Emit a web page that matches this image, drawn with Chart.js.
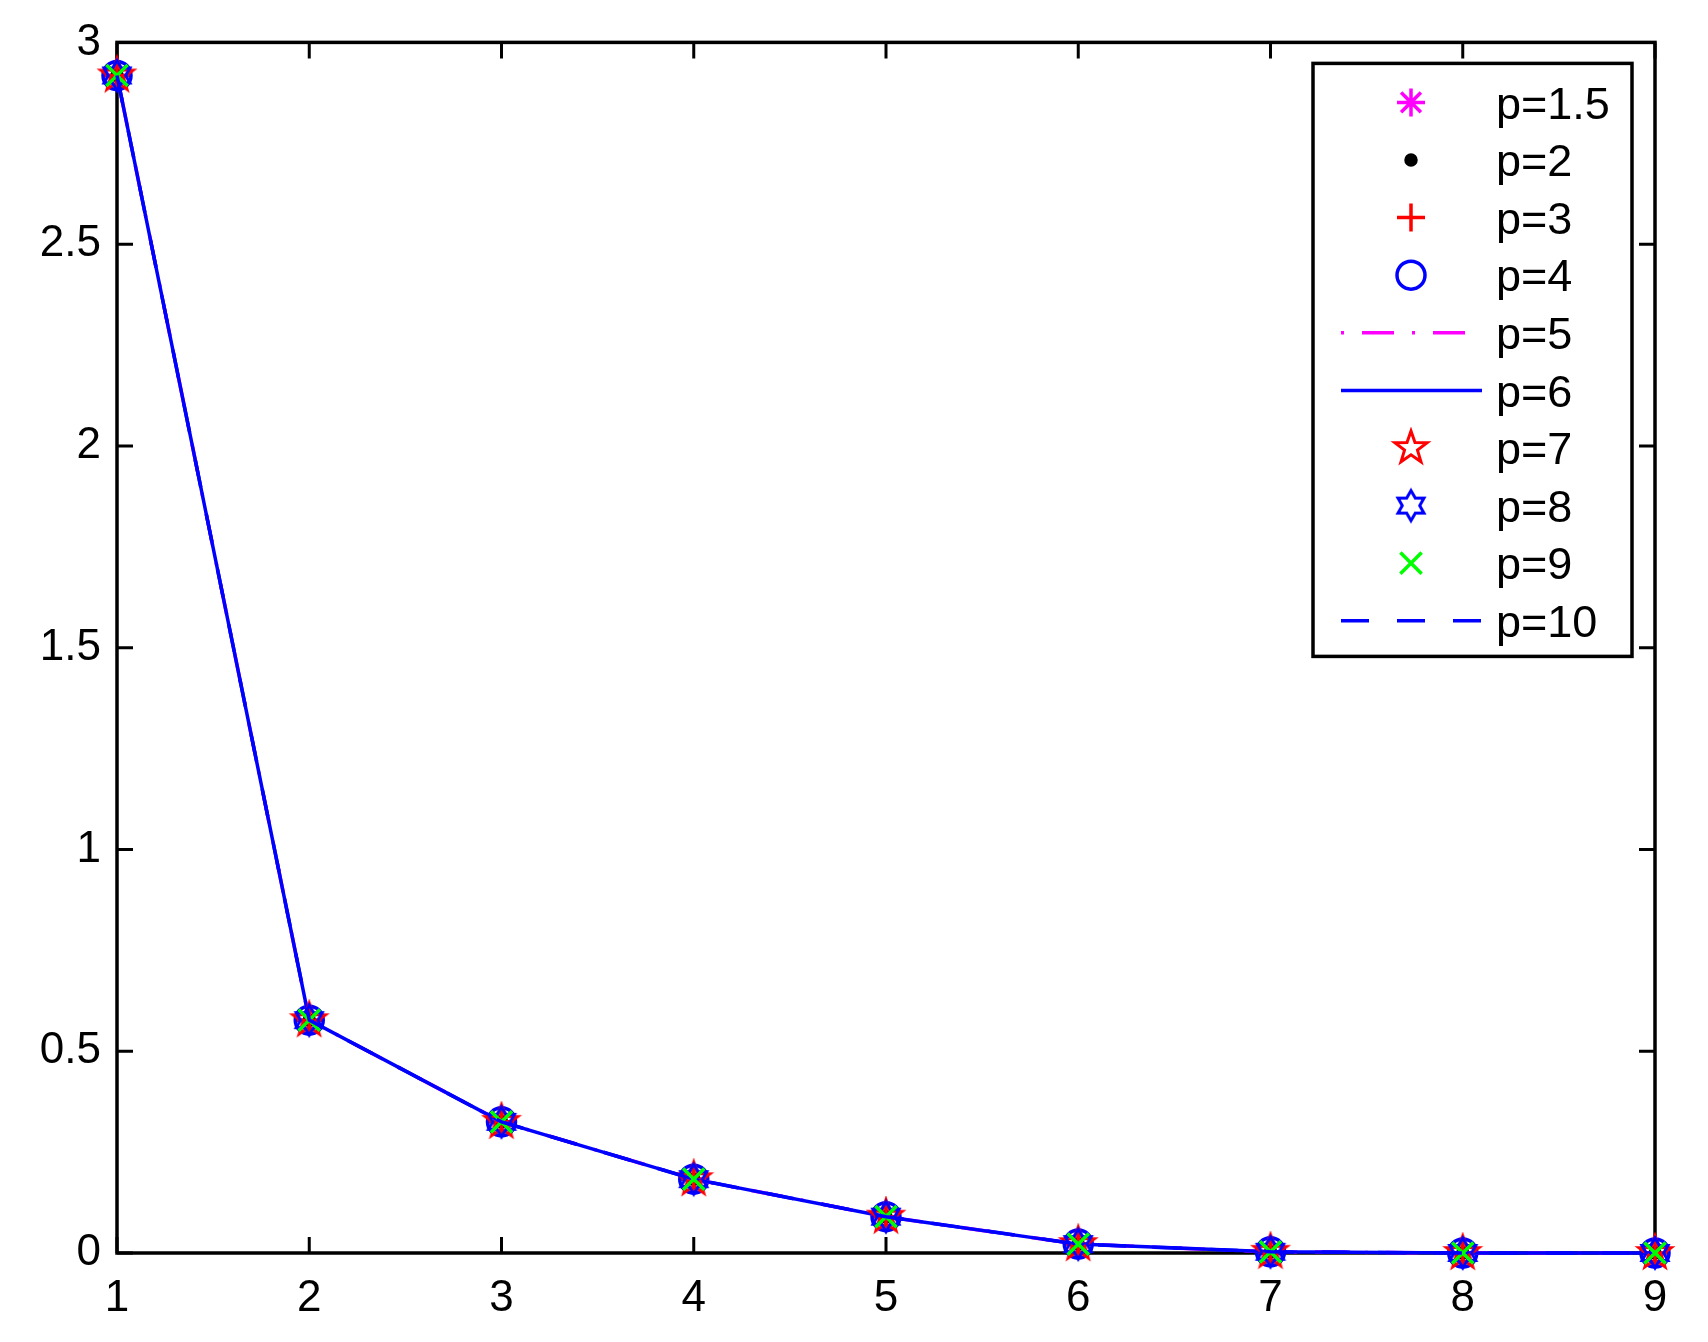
<!DOCTYPE html>
<html lang="en">
<head>
  <meta charset="UTF-8" />
  <title>p curves</title>
  <script src="https://cdn.jsdelivr.net/npm/chart.js"></script>
  <style>
    html, body { margin: 0; padding: 0; background: #fff; }
    #wrap { width: 1708px; height: 1342px; }
  </style>
</head>
<body>
  <div id="wrap"><canvas id="chart"></canvas></div>

  <script>
    // values, one array per curve
    const xValues = [1, 2, 3, 4, 5, 6, 7, 8, 9];
    const xTicks = [1, 2, 3, 4, 5, 6, 7, 8, 9];
    const yTicks = [0, 0.5, 1, 1.5, 2, 2.5, 3];
    const seriesNames = ['p=1.5', 'p=2', 'p=3', 'p=4', 'p=5', 'p=6', 'p=7', 'p=8', 'p=9', 'p=10'];

    const p1_5 = [2.918, 0.577, 0.325, 0.183, 0.090, 0.022, 0.003, 0.000, 0.000];
    const p2   = [2.918, 0.577, 0.325, 0.183, 0.090, 0.022, 0.003, 0.000, 0.000];
    const p3   = [2.918, 0.577, 0.325, 0.183, 0.090, 0.022, 0.003, 0.000, 0.000];
    const p4   = [2.918, 0.577, 0.325, 0.183, 0.090, 0.022, 0.003, 0.000, 0.000];
    const p5   = [2.918, 0.577, 0.325, 0.183, 0.090, 0.022, 0.003, 0.000, 0.000];
    const p6   = [2.918, 0.577, 0.325, 0.183, 0.090, 0.022, 0.003, 0.000, 0.000];
    const p7   = [2.918, 0.577, 0.325, 0.183, 0.090, 0.022, 0.003, 0.000, 0.000];
    const p8   = [2.918, 0.577, 0.325, 0.183, 0.090, 0.022, 0.003, 0.000, 0.000];
    const p9   = [2.918, 0.577, 0.325, 0.183, 0.090, 0.022, 0.003, 0.000, 0.000];
    const p10  = [2.918, 0.577, 0.325, 0.183, 0.090, 0.022, 0.003, 0.000, 0.000];

    const FONT = "'Liberation Sans', Arial, Helvetica, sans-serif";

    // star shaped markers (pentagram / hexagram) as small canvases
    function starMarker(n, rOut, rIn, color) {
      const size = Math.ceil(rOut * 2 + 8);
      const c = document.createElement('canvas');
      c.width = size; c.height = size;
      const g = c.getContext('2d');
      g.strokeStyle = color;
      g.lineWidth = 3;
      g.lineJoin = 'miter';
      g.beginPath();
      for (let k = 0; k < n * 2; k++) {
        const r = k % 2 ? rIn : rOut;
        const a = -Math.PI / 2 + k * Math.PI / n;
        const px = size / 2 + r * Math.cos(a);
        const py = size / 2 + r * Math.sin(a);
        if (k === 0) g.moveTo(px, py); else g.lineTo(px, py);
      }
      g.closePath();
      g.stroke();
      return c;
    }
    const pentagram = starMarker(5, 17, 6.8, '#ff0000');
    const hexagram = starMarker(6, 15, 8.7, '#0000ff');

    function pts(arr) {
      return xValues.map((x, i) => ({ x: x, y: arr[i] }));
    }

    function markers(label, arr, style, color, radius, fill) {
      return {
        label: label, data: pts(arr), showLine: false,
        pointStyle: style, pointRadius: radius, pointHoverRadius: radius,
        borderColor: color, pointBorderColor: color,
        pointBackgroundColor: fill || 'rgba(0,0,0,0)',
        pointBorderWidth: 3.5, borderWidth: 3.5, clip: false
      };
    }
    function curve(label, arr, color, dash) {
      return {
        label: label, data: pts(arr), showLine: true,
        borderColor: color, borderWidth: 3.5, borderDash: dash,
        pointRadius: 0, pointHoverRadius: 0, tension: 0, clip: false,
        pointStyle: false
      };
    }

    const datasets = [
      markers(seriesNames[0], p1_5, 'star', '#ff00ff', 14),
      markers(seriesNames[1], p2, 'circle', '#000000', 5, '#000000'),
      markers(seriesNames[2], p3, 'cross', '#ff0000', 14),
      markers(seriesNames[3], p4, 'circle', '#0000ff', 14),
      curve(seriesNames[4], p5, '#ff00ff', [3, 18, 32, 18]),
      curve(seriesNames[5], p6, '#0000ff', []),
      markers(seriesNames[6], p7, pentagram, '#ff0000', 16),
      markers(seriesNames[7], p8, hexagram, '#0000ff', 15),
      markers(seriesNames[8], p9, 'crossRot', '#00ff00', 15),
      curve(seriesNames[9], p10, '#0000ff', [28, 28])
    ];
    // later curves on top, like the original plot
    datasets.forEach((d, i) => { d.order = datasets.length - i; });

    const TICK_LEN = 16;

    const boxPlugin = {
      id: 'boxPlugin',
      beforeDatasetsDraw(chart) {
        const { ctx, chartArea: a, scales: { x, y } } = chart;
        ctx.save();
        ctx.strokeStyle = '#000';
        ctx.lineWidth = 3.5;
        ctx.strokeRect(a.left, a.top, a.right - a.left, a.bottom - a.top);
        ctx.lineWidth = 3;
        ctx.beginPath();
        x.ticks.forEach(t => {
          const px = x.getPixelForValue(t.value);
          ctx.moveTo(px, a.bottom); ctx.lineTo(px, a.bottom - TICK_LEN);
          ctx.moveTo(px, a.top); ctx.lineTo(px, a.top + TICK_LEN);
        });
        y.ticks.forEach(t => {
          const py = y.getPixelForValue(t.value);
          ctx.moveTo(a.left, py); ctx.lineTo(a.left + TICK_LEN, py);
          ctx.moveTo(a.right, py); ctx.lineTo(a.right - TICK_LEN, py);
        });
        ctx.stroke();
        ctx.restore();
      },
      afterDraw(chart) {
        const { ctx, chartArea: a } = chart;
        const bx = a.right - 23, by = a.top + 21;
        const bw = 319, bh = 593;
        const left = bx - bw;
        ctx.save();
        ctx.fillStyle = '#fff';
        ctx.fillRect(left, by, bw, bh);
        ctx.strokeStyle = '#000';
        ctx.lineWidth = 3.5;
        ctx.strokeRect(left, by, bw, bh);

        const rowH = 57.6;
        const fontSize = 45;
        chart.data.datasets.forEach((d, i) => {
          const cy = by + 39 + i * rowH;
          const cx = left + 98;
          if (d.showLine) {
            ctx.save();
            ctx.strokeStyle = d.borderColor;
            ctx.lineWidth = d.borderWidth;
            ctx.setLineDash(d.borderDash || []);
            ctx.beginPath();
            ctx.moveTo(left + 28, cy);
            ctx.lineTo(left + 169, cy);
            ctx.stroke();
            ctx.restore();
          } else {
            ctx.save();
            ctx.strokeStyle = d.pointBorderColor;
            ctx.fillStyle = d.pointBackgroundColor;
            ctx.lineWidth = d.pointBorderWidth;
            Chart.helpers.drawPoint(ctx, {
              pointStyle: d.pointStyle, radius: d.pointRadius,
              borderWidth: d.pointBorderWidth, rotation: 0
            }, cx, cy);
            ctx.restore();
          }
          ctx.fillStyle = '#000';
          ctx.font = fontSize + 'px ' + FONT;
          ctx.textAlign = 'left';
          ctx.textBaseline = 'alphabetic';
          ctx.fillText(d.label, left + 183, cy + fontSize * 0.716 / 2);
        });
        ctx.restore();
      }
    };

    new Chart(document.getElementById('chart'), {
      type: 'line',
      data: { datasets: datasets },
      options: {
        responsive: true,
        maintainAspectRatio: false,
        animation: false,
        events: [],
        layout: { padding: { top: 41, right: 53, left: 0, bottom: 0 } },
        plugins: { legend: { display: false }, tooltip: { enabled: false } },
        scales: {
          x: {
            type: 'linear', min: xTicks[0], max: xTicks[xTicks.length - 1],
            afterBuildTicks: s => { s.ticks = xTicks.map(v => ({ value: v })); },
            grid: { display: false, drawTicks: false },
            border: { display: false },
            ticks: { color: '#000', font: { family: FONT, size: 44 }, padding: 19, maxRotation: 0,
                     callback: v => String(v) },
            afterFit: s => { s.height = 89; }
          },
          y: {
            type: 'linear', min: yTicks[0], max: yTicks[yTicks.length - 1],
            afterBuildTicks: s => { s.ticks = yTicks.map(v => ({ value: v })); },
            grid: { display: false, drawTicks: false },
            border: { display: false },
            ticks: { color: '#000', font: { family: FONT, size: 44 }, padding: 16,
                     callback: v => String(v) },
            afterFit: s => { s.width = 117; }
          }
        }
      },
      plugins: [boxPlugin]
    });
  </script>
</body>
</html>
